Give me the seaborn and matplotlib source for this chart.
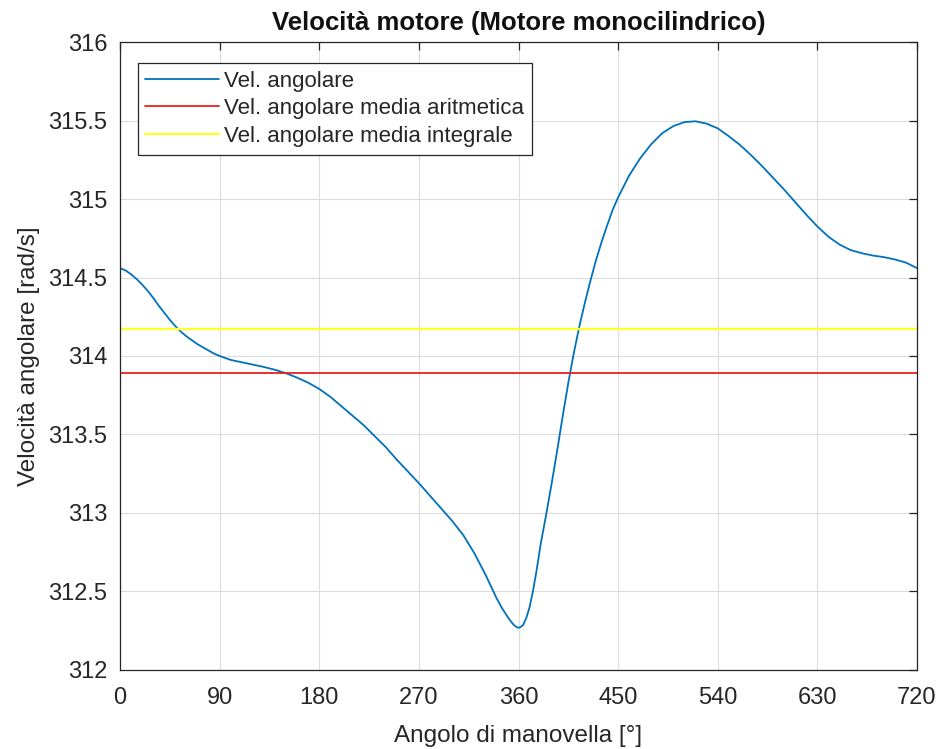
import numpy as np
import pandas as pd
import matplotlib
matplotlib.use("Agg")
import matplotlib.pyplot as plt
import seaborn as sns

# Data
angle = [0, 5, 10, 15, 20, 25, 30, 35, 40, 45, 50, 55, 60, 65, 70, 75, 80, 85, 90,
         100, 110, 120, 130, 140, 150, 160, 170, 180, 190, 200, 210, 220, 230, 240,
         250, 260, 270, 280, 290, 300, 310, 320, 330, 335, 340, 345, 350, 353, 356,
         359, 361, 364, 367, 370, 373, 376, 380, 385, 390, 395, 400, 405, 410, 415,
         420, 425, 430, 435, 440, 445, 450, 460, 470, 480, 490, 500, 510, 520, 530,
         540, 550, 560, 570, 580, 590, 600, 610, 620, 630, 640, 650, 660, 670, 680,
         690, 700, 710, 720]
omega = [314.56, 314.545, 314.52, 314.49, 314.455, 314.415, 314.37, 314.32, 314.275,
         314.23, 314.19, 314.155, 314.125, 314.10, 314.075, 314.055, 314.035, 314.015,
         314.00, 313.975, 313.96, 313.945, 313.93, 313.912, 313.89, 313.862, 313.83,
         313.79, 313.74, 313.68, 313.62, 313.56, 313.49, 313.42, 313.34, 313.265,
         313.19, 313.11, 313.03, 312.95, 312.86, 312.745, 312.61, 312.535, 312.46,
         312.395, 312.34, 312.31, 312.285, 312.27, 312.27, 312.285, 312.33, 312.40,
         312.50, 312.62, 312.80, 312.99, 313.19, 313.40, 313.62, 313.83, 314.02,
         314.19, 314.34, 314.48, 314.61, 314.725, 314.83, 314.93, 315.01, 315.15,
         315.26, 315.35, 315.42, 315.465, 315.49, 315.495, 315.48, 315.45, 315.40,
         315.345, 315.28, 315.21, 315.135, 315.06, 314.98, 314.90, 314.825, 314.76,
         314.71, 314.675, 314.655, 314.64, 314.63, 314.615, 314.595, 314.56]
mean_arith = 313.89
mean_integral = 314.17

labels = ["Vel. angolare", "Vel. angolare media aritmetica", "Vel. angolare media integrale"]
xticks = [0, 90, 180, 270, 360, 450, 540, 630, 720]
yticks = [312, 312.5, 313, 313.5, 314, 314.5, 315, 315.5, 316]
yticklabels = ["312", "312.5", "313", "313.5", "314", "314.5", "315", "315.5", "316"]

sns.set_style("white")
plt.rcParams['font.family'] = ['Liberation Sans', 'DejaVu Sans']

df = pd.DataFrame({"angle": angle, "omega": omega})

fig = plt.figure(figsize=(9.4, 7.49), dpi=100)
ax = fig.add_axes([0.1277, 0.1055, 0.8478, 0.8384])

sns.lineplot(data=df, x="angle", y="omega", ax=ax, color="#0072BD", linewidth=1.3,
             label=labels[0])
ax.axhline(mean_arith, color="#E8201E", linewidth=1.3, label=labels[1])
ax.axhline(mean_integral, color="#FFFF33", linewidth=1.7, label=labels[2])

ax.set_xlim(0, 720)
ax.set_ylim(312, 316)
ax.set_xticks(xticks)
ax.set_xticklabels([str(t) for t in xticks])
ax.set_yticks(yticks)
ax.set_yticklabels(yticklabels)
ax.grid(True, color="#dcdcdc", linewidth=0.8)
ax.set_axisbelow(True)
for s in ax.spines.values():
    s.set_color("#262626")
    s.set_linewidth(0.9)
ax.tick_params(direction="in", length=6, width=0.9, color="#262626",
               top=True, right=True, labelsize=17, labelcolor="#262626")
ax.tick_params(axis="x", pad=12)
ax.tick_params(axis="y", pad=9)

ax.set_xlabel("Angolo di manovella [°]", fontsize=17.5, color="#262626", labelpad=12)
ax.set_ylabel("Velocità angolare [rad/s]", fontsize=17.5, color="#262626", labelpad=6)
ax.set_title("Velocità motore (Motore monocilindrico)", fontsize=18.5, fontweight="bold",
             color="#111111", pad=9)

leg = ax.legend(loc="upper left", bbox_to_anchor=(0.022, 0.967), fontsize=16,
                frameon=True, fancybox=False, edgecolor="#262626", framealpha=1,
                handlelength=3.3, handletextpad=0.25, borderpad=0.35, labelspacing=0.3,
                borderaxespad=0)
leg.get_frame().set_linewidth(0.9)

fig.savefig("out.png", dpi=100)
